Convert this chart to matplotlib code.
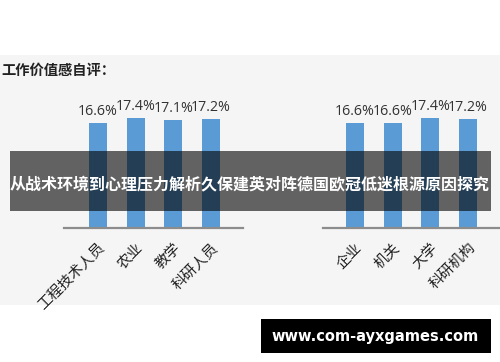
import matplotlib
matplotlib.use('Agg')
import matplotlib.pyplot as plt
from matplotlib.patches import Rectangle

plt.rcParams['font.family'] = ['Noto Sans CJK SC', 'DejaVu Sans']

# data
left_cats = ['工程技术人员', '农业', '教学', '科研人员']
left_vals = [16.6, 17.4, 17.1, 17.2]
right_cats = ['企业', '机关', '大学', '科研机构']
right_vals = [16.6, 16.6, 17.4, 17.2]

title_text = '工作价值感自评：'
banner_text = '从战术环境到心理压力解析久保建英对阵德国欧冠低迷根源原因探究'
site_text = 'www.com-ayxgames.com'

W, H = 500, 362
fig = plt.figure(figsize=(W / 100, H / 100), dpi=100)
fig.patch.set_facecolor('white')


def px_rect(x0, y0, x1, y1, **kw):
    # rectangle given in pixel coords (y from top)
    return Rectangle((x0 / W, 1 - y1 / H), (x1 - x0) / W, (y1 - y0) / H,
                     transform=fig.transFigure, **kw)


# light grey panel behind the chart
fig.patches.append(px_rect(0, 55, 500, 305, facecolor='#f5f5f5',
                           edgecolor='none', zorder=-2))

bar_color = '#5b9bd5'
base_y = 228      # pixel row of the baseline
top_y = 100
ymax = (base_y - top_y) / 6.33


def draw_panel(x_left, x_right, first_center, cats, vals):
    step = 37.7
    ax = fig.add_axes([x_left / W, 1 - base_y / H, (x_right - x_left) / W,
                       (base_y - top_y) / H])
    ax.set_facecolor('none')
    xs = list(range(len(cats)))
    ax.bar(xs, vals, width=0.48, color=bar_color, zorder=2)
    ax.set_xlim((x_left - first_center) / step, (x_right - first_center) / step)
    ax.set_ylim(0, ymax)
    for x, v in zip(xs, vals):
        ax.annotate(f'{v:.1f}%', (x, v), xytext=(0, 3), textcoords='offset points',
                    ha='center', va='bottom', fontsize=10.3, color='#333333',
                    family='Open Sans')
    for s in ['top', 'right', 'left']:
        ax.spines[s].set_visible(False)
    ax.spines['bottom'].set_color('#8c8c8c')
    ax.spines['bottom'].set_linewidth(1.6)
    ax.set_yticks([])
    ax.set_xticks(xs)
    ax.set_xticklabels(cats, rotation=45, ha='right', rotation_mode='anchor',
                       fontsize=10.5, color='#222222')
    ax.tick_params(axis='x', length=0, pad=9)
    return ax


draw_panel(64, 243, 98, left_cats, left_vals)
draw_panel(323, 500, 355, right_cats, right_vals)

fig.text(1 / W, 1 - 71 / H, title_text, fontsize=10.3, fontweight='bold',
         color='#222222', ha='left', va='center')

# dark translucent banner over the chart
fig.patches.append(px_rect(10, 151, 491, 211, facecolor='black', alpha=0.6,
                           edgecolor='none', zorder=5))
fig.text(250 / W, 1 - 184 / H, banner_text, fontsize=11.5, fontweight='bold',
         color='white', ha='center', va='center', zorder=6)

# site badge
fig.patches.append(px_rect(261, 319, 491, 353, facecolor='black',
                           edgecolor='none', zorder=5))
fig.text(375 / W, 1 - 336 / H, site_text, fontsize=10.5, fontweight='bold',
         color='white', ha='center', va='center', zorder=6,
         family='DejaVu Sans')

fig.savefig('out.png', dpi=100)
